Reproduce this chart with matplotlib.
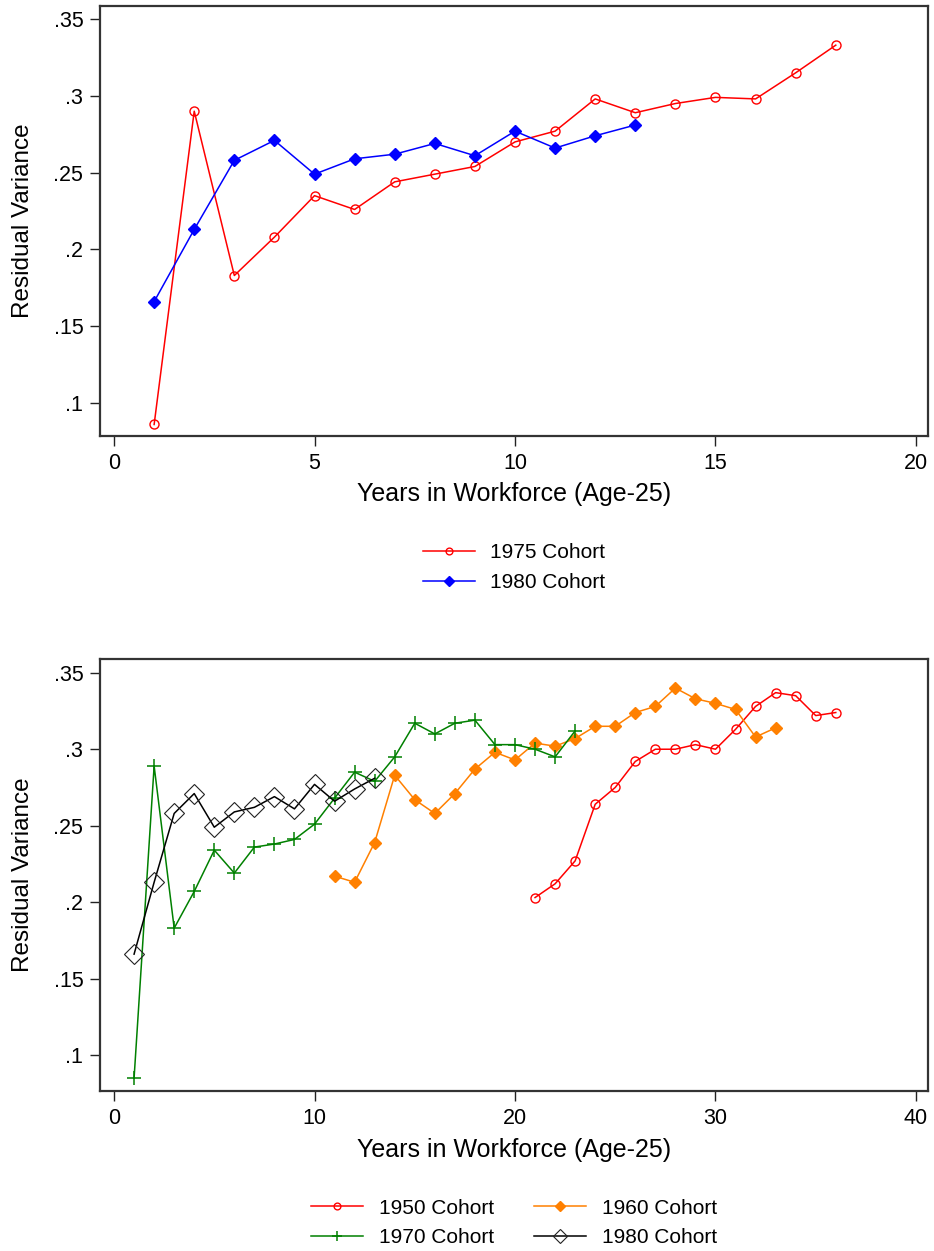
import matplotlib
matplotlib.use("Agg")
import matplotlib.pyplot as plt
import numpy as np

plt.rcParams['font.family'] = ['Liberation Sans', 'DejaVu Sans']

# Top panel data
years_1975 = list(range(1, 19))
var_1975 = [.086, .290, .183, .208, .235, .226, .244, .249, .254, .270,
            .277, .298, .289, .295, .299, .298, .315, .333]
years_1980 = list(range(1, 14))
var_1980 = [.166, .213, .258, .271, .249, .259, .262, .269, .261, .277,
            .266, .274, .281]

# Bottom panel data
years_1950 = list(range(21, 37))
var_1950 = [.203, .212, .227, .264, .275, .292, .300, .300, .303, .300,
            .313, .328, .337, .335, .322, .324]
years_1960 = list(range(11, 34))
var_1960 = [.217, .213, .239, .283, .267, .258, .271, .287, .298, .293,
            .304, .302, .307, .315, .315, .324, .328, .340, .333, .330,
            .326, .308, .314]
years_1970 = list(range(1, 24))
var_1970 = [.085, .289, .183, .207, .234, .219, .236, .238, .241, .251,
            .268, .285, .279, .295, .317, .310, .317, .319, .303, .303,
            .300, .295, .312]

yticks = [.1, .15, .2, .25, .3, .35]
ytick_labels = ['.1', '.15', '.2', '.25', '.3', '.35']

fig = plt.figure(figsize=(9.34, 12.51), dpi=100)
ax1 = fig.add_axes([100/934, 1-436/1251, 828/934, 430/1251])
ax2 = fig.add_axes([100/934, 1-1091/1251, 828/934, 432/1251])

lw = 1.1
ax1.plot(years_1975, var_1975, color='#FF0000', lw=lw, marker='o', ms=6.5,
         mfc='none', mec='#FF0000', mew=1.0, label='1975 Cohort')
ax1.plot(years_1980, var_1980, color='#0000FF', lw=lw, marker='D', ms=6.5,
         mfc='#0000FF', mec='#0000FF', label='1980 Cohort')

l50, = ax2.plot(years_1950, var_1950, color='#FF0000', lw=lw, marker='o', ms=6.5,
                mfc='none', mec='#FF0000', mew=1.0, label='1950 Cohort')
l60, = ax2.plot(years_1960, var_1960, color='#FF8000', lw=lw, marker='D', ms=6.5,
                mfc='#FF8000', mec='#FF8000', label='1960 Cohort')
l70, = ax2.plot(years_1970, var_1970, color='#008000', lw=lw, marker='+', ms=10,
                mew=1.1, label='1970 Cohort')
l80, = ax2.plot(years_1980, var_1980, color='black', lw=lw, marker='D', ms=10,
                mfc='none', mec='#222222', mew=0.8, label='1980 Cohort')

ax1.set_xlim(-0.35, 20.3)
ax1.set_xticks([0, 5, 10, 15, 20])
ax2.set_xlim(-0.7, 40.6)
ax2.set_xticks([0, 10, 20, 30, 40])
ax1.set_ylim(0.0785, 0.3585)
ax2.set_ylim(0.0765, 0.359)

for ax in (ax1, ax2):
    ax.set_yticks(yticks)
    ax.set_yticklabels(ytick_labels)
    ax.tick_params(labelsize=15.5, length=7, width=1.0, pad=5, color='#222222')
    for s in ax.spines.values():
        s.set_linewidth(1.6)
        s.set_color('#333333')
    ax.set_xlabel('Years in Workforce (Age-25)', fontsize=18)
    ax.set_ylabel('Residual Variance', fontsize=17.5)
    ax.xaxis.set_label_coords(0.5, -0.108)
    ax.yaxis.set_label_coords(-0.08, 0.5)

ax1.legend(loc='upper center', bbox_to_anchor=(0.5, -0.225), frameon=False,
           fontsize=15, handlelength=2.5, handletextpad=0.75, labelspacing=0.52,
           borderpad=0, markerscale=0.75)
# column-wise fill: 1950 / 1970 in first column, 1960 / 1980 in second
ax2.legend(handles=[l50, l70, l60, l80], loc='upper center',
           bbox_to_anchor=(0.5, -0.225), frameon=False,
           fontsize=15, ncol=2, handlelength=2.5, handletextpad=0.75,
           labelspacing=0.52, columnspacing=1.9, borderpad=0, markerscale=0.75)

fig.savefig('out.png', dpi=100)
